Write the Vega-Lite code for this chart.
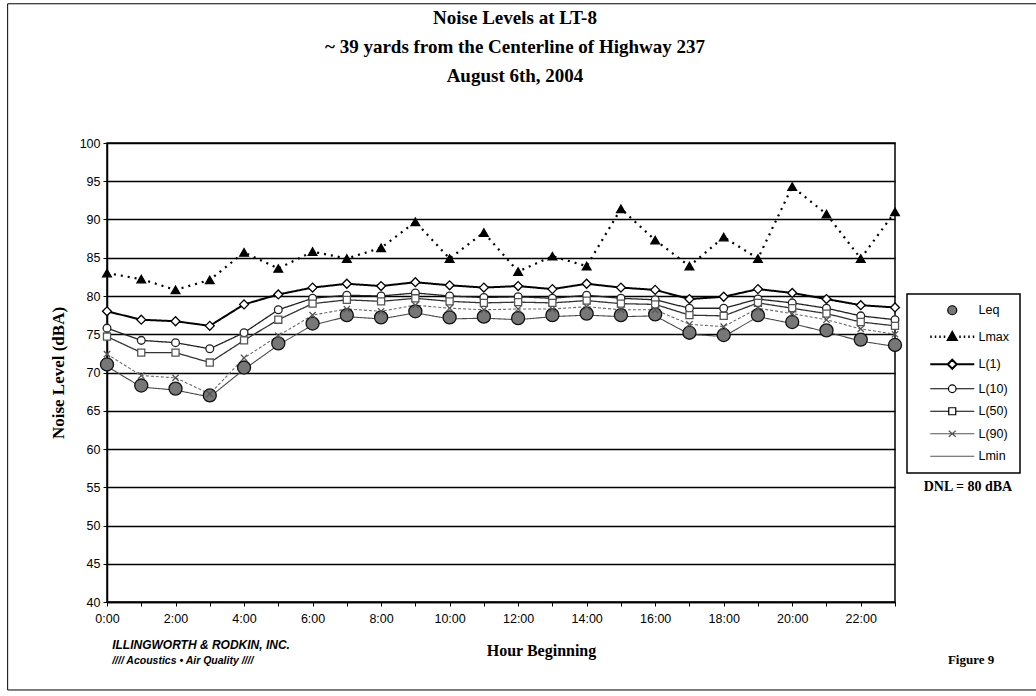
{
  "$schema": "https://vega.github.io/schema/vega-lite/v6.json",
  "width": 788,
  "height": 459,
  "autosize": {"type": "none"},
  "padding": {"left": 107, "top": 143, "right": 141, "bottom": 94},
  "background": "white",
  "title": {
    "text": ["Noise Levels at LT-8", "~ 39 yards from the Centerline of Highway 237", "August 6th, 2004"],
    "font": "Liberation Serif",
    "fontWeight": "bold",
    "fontSize": 19,
    "lineHeight": 29,
    "anchor": "middle",
    "frame": "group",
    "dx": 14,
    "offset": -83,
    "color": "black"
  },
  "config": {
    "view": {"stroke": "black", "strokeWidth": 1.5},
    "axis": {"labelColor": "black", "titleColor": "black"}
  },
  "resolve": {"scale": {"shape": "independent"}},
  "data": {
    "values": [
      {"hour": 0, "series": "Leq", "value": 71.05}, {"hour": 1, "series": "Leq", "value": 68.3}, {"hour": 2, "series": "Leq", "value": 67.9}, {"hour": 3, "series": "Leq", "value": 67.0},
      {"hour": 4, "series": "Leq", "value": 70.65}, {"hour": 5, "series": "Leq", "value": 73.8}, {"hour": 6, "series": "Leq", "value": 76.4}, {"hour": 7, "series": "Leq", "value": 77.5},
      {"hour": 8, "series": "Leq", "value": 77.2}, {"hour": 9, "series": "Leq", "value": 78.0}, {"hour": 10, "series": "Leq", "value": 77.2}, {"hour": 11, "series": "Leq", "value": 77.3},
      {"hour": 12, "series": "Leq", "value": 77.1}, {"hour": 13, "series": "Leq", "value": 77.5}, {"hour": 14, "series": "Leq", "value": 77.7}, {"hour": 15, "series": "Leq", "value": 77.5},
      {"hour": 16, "series": "Leq", "value": 77.6}, {"hour": 17, "series": "Leq", "value": 75.2}, {"hour": 18, "series": "Leq", "value": 74.9}, {"hour": 19, "series": "Leq", "value": 77.5},
      {"hour": 20, "series": "Leq", "value": 76.6}, {"hour": 21, "series": "Leq", "value": 75.5}, {"hour": 22, "series": "Leq", "value": 74.3}, {"hour": 23, "series": "Leq", "value": 73.6},

      {"hour": 0, "series": "Lmax", "value": 83.0}, {"hour": 1, "series": "Lmax", "value": 82.2}, {"hour": 2, "series": "Lmax", "value": 80.8}, {"hour": 3, "series": "Lmax", "value": 82.1},
      {"hour": 4, "series": "Lmax", "value": 85.7}, {"hour": 5, "series": "Lmax", "value": 83.6}, {"hour": 6, "series": "Lmax", "value": 85.8}, {"hour": 7, "series": "Lmax", "value": 84.9},
      {"hour": 8, "series": "Lmax", "value": 86.3}, {"hour": 9, "series": "Lmax", "value": 89.7}, {"hour": 10, "series": "Lmax", "value": 84.9}, {"hour": 11, "series": "Lmax", "value": 88.3},
      {"hour": 12, "series": "Lmax", "value": 83.2}, {"hour": 13, "series": "Lmax", "value": 85.2}, {"hour": 14, "series": "Lmax", "value": 83.9}, {"hour": 15, "series": "Lmax", "value": 91.4},
      {"hour": 16, "series": "Lmax", "value": 87.3}, {"hour": 17, "series": "Lmax", "value": 83.9}, {"hour": 18, "series": "Lmax", "value": 87.7}, {"hour": 19, "series": "Lmax", "value": 84.9},
      {"hour": 20, "series": "Lmax", "value": 94.3}, {"hour": 21, "series": "Lmax", "value": 90.7}, {"hour": 22, "series": "Lmax", "value": 84.9}, {"hour": 23, "series": "Lmax", "value": 91.0},

      {"hour": 0, "series": "L(1)", "value": 78.0}, {"hour": 1, "series": "L(1)", "value": 76.9}, {"hour": 2, "series": "L(1)", "value": 76.7}, {"hour": 3, "series": "L(1)", "value": 76.1},
      {"hour": 4, "series": "L(1)", "value": 78.9}, {"hour": 5, "series": "L(1)", "value": 80.2}, {"hour": 6, "series": "L(1)", "value": 81.1}, {"hour": 7, "series": "L(1)", "value": 81.6},
      {"hour": 8, "series": "L(1)", "value": 81.3}, {"hour": 9, "series": "L(1)", "value": 81.8}, {"hour": 10, "series": "L(1)", "value": 81.4}, {"hour": 11, "series": "L(1)", "value": 81.1},
      {"hour": 12, "series": "L(1)", "value": 81.3}, {"hour": 13, "series": "L(1)", "value": 80.9}, {"hour": 14, "series": "L(1)", "value": 81.6}, {"hour": 15, "series": "L(1)", "value": 81.1},
      {"hour": 16, "series": "L(1)", "value": 80.8}, {"hour": 17, "series": "L(1)", "value": 79.6}, {"hour": 18, "series": "L(1)", "value": 79.9}, {"hour": 19, "series": "L(1)", "value": 80.9},
      {"hour": 20, "series": "L(1)", "value": 80.4}, {"hour": 21, "series": "L(1)", "value": 79.6}, {"hour": 22, "series": "L(1)", "value": 78.8}, {"hour": 23, "series": "L(1)", "value": 78.5},

      {"hour": 0, "series": "L(10)", "value": 75.8}, {"hour": 1, "series": "L(10)", "value": 74.2}, {"hour": 2, "series": "L(10)", "value": 73.9}, {"hour": 3, "series": "L(10)", "value": 73.1},
      {"hour": 4, "series": "L(10)", "value": 75.2}, {"hour": 5, "series": "L(10)", "value": 78.2}, {"hour": 6, "series": "L(10)", "value": 79.7}, {"hour": 7, "series": "L(10)", "value": 80.1},
      {"hour": 8, "series": "L(10)", "value": 80.0}, {"hour": 9, "series": "L(10)", "value": 80.4}, {"hour": 10, "series": "L(10)", "value": 80.0}, {"hour": 11, "series": "L(10)", "value": 79.8},
      {"hour": 12, "series": "L(10)", "value": 79.9}, {"hour": 13, "series": "L(10)", "value": 79.7}, {"hour": 14, "series": "L(10)", "value": 80.1}, {"hour": 15, "series": "L(10)", "value": 79.7},
      {"hour": 16, "series": "L(10)", "value": 79.5}, {"hour": 17, "series": "L(10)", "value": 78.4}, {"hour": 18, "series": "L(10)", "value": 78.4}, {"hour": 19, "series": "L(10)", "value": 79.6},
      {"hour": 20, "series": "L(10)", "value": 79.1}, {"hour": 21, "series": "L(10)", "value": 78.4}, {"hour": 22, "series": "L(10)", "value": 77.4}, {"hour": 23, "series": "L(10)", "value": 76.9},

      {"hour": 0, "series": "L(50)", "value": 74.7}, {"hour": 1, "series": "L(50)", "value": 72.6}, {"hour": 2, "series": "L(50)", "value": 72.6}, {"hour": 3, "series": "L(50)", "value": 71.3},
      {"hour": 4, "series": "L(50)", "value": 74.2}, {"hour": 5, "series": "L(50)", "value": 76.9}, {"hour": 6, "series": "L(50)", "value": 79.0}, {"hour": 7, "series": "L(50)", "value": 79.5},
      {"hour": 8, "series": "L(50)", "value": 79.3}, {"hour": 9, "series": "L(50)", "value": 79.7}, {"hour": 10, "series": "L(50)", "value": 79.3}, {"hour": 11, "series": "L(50)", "value": 79.1},
      {"hour": 12, "series": "L(50)", "value": 79.2}, {"hour": 13, "series": "L(50)", "value": 79.1}, {"hour": 14, "series": "L(50)", "value": 79.4}, {"hour": 15, "series": "L(50)", "value": 79.0},
      {"hour": 16, "series": "L(50)", "value": 78.9}, {"hour": 17, "series": "L(50)", "value": 77.5}, {"hour": 18, "series": "L(50)", "value": 77.4}, {"hour": 19, "series": "L(50)", "value": 79.1},
      {"hour": 20, "series": "L(50)", "value": 78.4}, {"hour": 21, "series": "L(50)", "value": 77.7}, {"hour": 22, "series": "L(50)", "value": 76.6}, {"hour": 23, "series": "L(50)", "value": 76.1},

      {"hour": 0, "series": "L(90)", "value": 72.4}, {"hour": 1, "series": "L(90)", "value": 69.6}, {"hour": 2, "series": "L(90)", "value": 69.3}, {"hour": 3, "series": "L(90)", "value": 67.2},
      {"hour": 4, "series": "L(90)", "value": 71.9}, {"hour": 5, "series": "L(90)", "value": 74.8}, {"hour": 6, "series": "L(90)", "value": 77.5}, {"hour": 7, "series": "L(90)", "value": 78.3},
      {"hour": 8, "series": "L(90)", "value": 78.0}, {"hour": 9, "series": "L(90)", "value": 78.8}, {"hour": 10, "series": "L(90)", "value": 78.4}, {"hour": 11, "series": "L(90)", "value": 78.2},
      {"hour": 12, "series": "L(90)", "value": 78.3}, {"hour": 13, "series": "L(90)", "value": 78.3}, {"hour": 14, "series": "L(90)", "value": 78.6}, {"hour": 15, "series": "L(90)", "value": 78.2},
      {"hour": 16, "series": "L(90)", "value": 78.2}, {"hour": 17, "series": "L(90)", "value": 76.3}, {"hour": 18, "series": "L(90)", "value": 76.0}, {"hour": 19, "series": "L(90)", "value": 78.4},
      {"hour": 20, "series": "L(90)", "value": 77.7}, {"hour": 21, "series": "L(90)", "value": 76.9}, {"hour": 22, "series": "L(90)", "value": 75.7}, {"hour": 23, "series": "L(90)", "value": 75.0},

      {"hour": 0, "series": "Lmin", "value": 70.8}, {"hour": 1, "series": "Lmin", "value": 68.1}, {"hour": 2, "series": "Lmin", "value": 67.7}, {"hour": 3, "series": "Lmin", "value": 66.8},
      {"hour": 4, "series": "Lmin", "value": 70.4}, {"hour": 5, "series": "Lmin", "value": 73.6}, {"hour": 6, "series": "Lmin", "value": 76.2}, {"hour": 7, "series": "Lmin", "value": 77.3},
      {"hour": 8, "series": "Lmin", "value": 77.0}, {"hour": 9, "series": "Lmin", "value": 77.8}, {"hour": 10, "series": "Lmin", "value": 77.0}, {"hour": 11, "series": "Lmin", "value": 77.1},
      {"hour": 12, "series": "Lmin", "value": 76.9}, {"hour": 13, "series": "Lmin", "value": 77.3}, {"hour": 14, "series": "Lmin", "value": 77.5}, {"hour": 15, "series": "Lmin", "value": 77.3},
      {"hour": 16, "series": "Lmin", "value": 77.4}, {"hour": 17, "series": "Lmin", "value": 75.0}, {"hour": 18, "series": "Lmin", "value": 74.7}, {"hour": 19, "series": "Lmin", "value": 77.3},
      {"hour": 20, "series": "Lmin", "value": 76.4}, {"hour": 21, "series": "Lmin", "value": 75.3}, {"hour": 22, "series": "Lmin", "value": 74.1}, {"hour": 23, "series": "Lmin", "value": 73.4}
    ]
  },
  "layer": [
    {
      "transform": [{"filter": "datum.series != 'Leq'"}],
      "mark": {"type": "line", "clip": false},
      "encoding": {
        "x": {
          "field": "hour", "type": "quantitative",
          "scale": {"domain": [0, 23], "nice": false, "zero": false},
          "axis": {
            "tickCount": 23,
            "labelExpr": "datum.value % 2 == 0 ? datum.value + ':00' : ''",
            "labelOverlap": false, "grid": false,
            "domainColor": "black", "domainWidth": 1.5,
            "tickColor": "black", "tickSize": 4, "tickWidth": 1,
            "labelFont": "Liberation Sans", "labelFontSize": 12.5, "labelPadding": 6, "labelFlush": false,
            "title": "Hour Beginning",
            "titleFont": "Liberation Serif", "titleFontSize": 16, "titleFontWeight": "bold",
            "titleX": 434, "titleY": 48, "titleAlign": "center", "titleBaseline": "middle"
          }
        },
        "y": {
          "field": "value", "type": "quantitative",
          "scale": {"domain": [40, 100], "nice": false, "zero": false},
          "axis": {
            "tickCount": 12,
            "labelOverlap": false,
            "grid": true, "gridColor": "black", "gridWidth": 1.6, "gridOpacity": 1,
            "domainColor": "black", "domainWidth": 1.5,
            "tickColor": "black", "tickSize": 4,
            "labelFont": "Liberation Sans", "labelFontSize": 12.5, "labelPadding": 3,
            "title": "Noise Level (dBA)",
            "titleFont": "Liberation Serif", "titleFontSize": 17, "titleFontWeight": "bold",
            "titlePadding": 12
          }
        },
        "detail": {"field": "series"},
        "color": {
          "field": "series", "type": "nominal",
          "scale": {"domain": ["Lmax", "L(1)", "L(10)", "L(50)", "L(90)", "Lmin"], "range": ["#000000", "#000000", "#222222", "#333333", "#6a6a6a", "#4a4a4a"]},
          "legend": null
        },
        "strokeDash": {
          "field": "series", "type": "nominal",
          "scale": {"domain": ["Lmax", "L(1)", "L(10)", "L(50)", "L(90)", "Lmin"], "range": [[2, 5], [1, 0], [1, 0], [1, 0], [3, 2], [1, 0]]},
          "legend": null
        },
        "strokeWidth": {
          "field": "series", "type": "nominal",
          "scale": {"type": "ordinal", "domain": ["Lmax", "L(1)", "L(10)", "L(50)", "L(90)", "Lmin"], "range": [2.2, 2, 1.3, 1.3, 1.1, 1.1]},
          "legend": null
        }
      }
    },
    {
      "transform": [{"filter": "datum.series != 'Lmin'"}],
      "mark": {"type": "point", "opacity": 1, "strokeWidth": 1.3, "clip": false},
      "encoding": {
        "x": {"field": "hour", "type": "quantitative"},
        "y": {"field": "value", "type": "quantitative"},
        "shape": {
          "field": "series", "type": "nominal",
          "scale": {"domain": ["Leq", "Lmax", "L(1)", "L(10)", "L(50)", "L(90)"], "range": ["circle", "triangle-up", "diamond", "circle", "square", "M-1,-1L1,1M-1,1L1,-1"]},
          "legend": null
        },
        "fill": {
          "field": "series", "type": "nominal",
          "scale": {"domain": ["Leq", "Lmax", "L(1)", "L(10)", "L(50)", "L(90)"], "range": ["#777777", "#000000", "#ffffff", "#ffffff", "#ffffff", "transparent"]},
          "legend": null
        },
        "stroke": {
          "field": "series", "type": "nominal",
          "scale": {"domain": ["Leq", "Lmax", "L(1)", "L(10)", "L(50)", "L(90)"], "range": ["#111111", "#000000", "#000000", "#222222", "#555555", "#555555"]},
          "legend": null
        },
        "size": {
          "field": "series", "type": "nominal",
          "scale": {"type": "ordinal", "domain": ["Leq", "Lmax", "L(1)", "L(10)", "L(50)", "L(90)"], "range": [170, 75, 80, 60, 50, 40]},
          "legend": null
        }
      }
    },
    {
      "mark": {"type": "point", "opacity": 0, "clip": false},
      "encoding": {
        "x": {"field": "hour", "type": "quantitative"},
        "y": {"field": "value", "type": "quantitative"},
        "shape": {
          "field": "series", "type": "nominal",
          "scale": {
            "domain": ["Leq", "Lmax", "L(1)", "L(10)", "L(50)", "L(90)", "Lmin"],
            "range": [
              "M-0.45,0A0.45,0.45,0,1,0,0.45,0A0.45,0.45,0,1,0,-0.45,0Z",
              "M-2.2,0h0.15M-1.75,0h0.15M-1.3,0h0.15M-0.85,0h0.15M0.7,0h0.15M1.15,0h0.15M1.6,0h0.15M2.05,0h0.15M0,-0.42L0.4,0.3L-0.4,0.3Z",
              "M-2.2,0H-0.45M0.45,0H2.2M0,-0.45L0.45,0L0,0.45L-0.45,0Z",
              "M-2.2,0H-0.38M0.38,0H2.2M-0.38,0A0.38,0.38,0,1,0,0.38,0A0.38,0.38,0,1,0,-0.38,0Z",
              "M-2.2,0H-0.35M0.35,0H2.2M-0.35,-0.35H0.35V0.35H-0.35Z",
              "M-2.2,0H2.2M-0.35,-0.3L0.35,0.3M-0.35,0.3L0.35,-0.3",
              "M-2.2,0H2.2M-0.3,0H0.3"
            ]
          },
          "legend": {
            "orient": "none", "legendX": 800, "legendY": 151,
            "title": null,
            "padding": 10, "rowPadding": 9.5,
            "strokeColor": "black", "fillColor": "white",
            "labelFont": "Liberation Sans", "labelFontSize": 12.5, "labelColor": "black",
            "symbolOffset": 29, "labelOffset": 20, "symbolSize": 400,
            "encoding": {
              "symbols": {
                "fill": {"value": {"expr": "datum.value == 'Leq' ? '#777777' : datum.value == 'Lmax' ? '#000000' : (datum.value == 'L(90)' || datum.value == 'Lmin') ? 'transparent' : '#ffffff'"}},
                "stroke": {"value": {"expr": "(datum.value == 'L(90)' || datum.value == 'Lmin') ? '#555555' : '#000000'"}},
                "strokeWidth": {"value": {"expr": "datum.value == 'Lmax' ? 2.5 : datum.value == 'L(1)' ? 2 : 1.2"}},
                "size": {"value": 400},
                "opacity": {"value": 1}
              },
              "legend": {"strokeWidth": {"value": 1.5}}
            }
          }
        }
      }
    },
    {
      "data": {"values": [{}]},
      "mark": {"type": "text", "font": "Liberation Serif", "fontWeight": "bold", "fontSize": 14, "align": "center", "baseline": "middle", "color": "black"},
      "encoding": {"x": {"datum": 25.13}, "y": {"datum": 55.0}, "text": {"value": "DNL = 80 dBA"}}
    },
    {
      "data": {"values": [{}]},
      "mark": {"type": "text", "font": "Liberation Serif", "fontWeight": "bold", "fontSize": 13, "align": "center", "baseline": "middle", "color": "black"},
      "encoding": {"x": {"datum": 25.22}, "y": {"datum": 32.4}, "text": {"value": "Figure 9"}}
    },
    {
      "data": {"values": [{}]},
      "mark": {"type": "text", "font": "Liberation Sans", "fontWeight": "bold", "fontStyle": "italic", "fontSize": 12, "align": "left", "baseline": "middle", "color": "black"},
      "encoding": {"x": {"datum": 0.15}, "y": {"datum": 34.4}, "text": {"value": "ILLINGWORTH & RODKIN, INC."}}
    },
    {
      "data": {"values": [{}]},
      "mark": {"type": "text", "font": "Liberation Sans", "fontWeight": "bold", "fontStyle": "italic", "fontSize": 10.5, "align": "left", "baseline": "middle", "color": "black"},
      "encoding": {"x": {"datum": 0.15}, "y": {"datum": 32.3}, "text": {"value": "//// Acoustics • Air Quality ////"}}
    },
    {
      "data": {"values": [{}]},
      "mark": {"type": "rect", "fill": null, "stroke": "black", "strokeWidth": 1, "clip": false},
      "encoding": {"x": {"datum": -2.9}, "x2": {"datum": 27.3}, "y": {"datum": 118.2}, "y2": {"datum": 28.5}}
    }
  ]
}
